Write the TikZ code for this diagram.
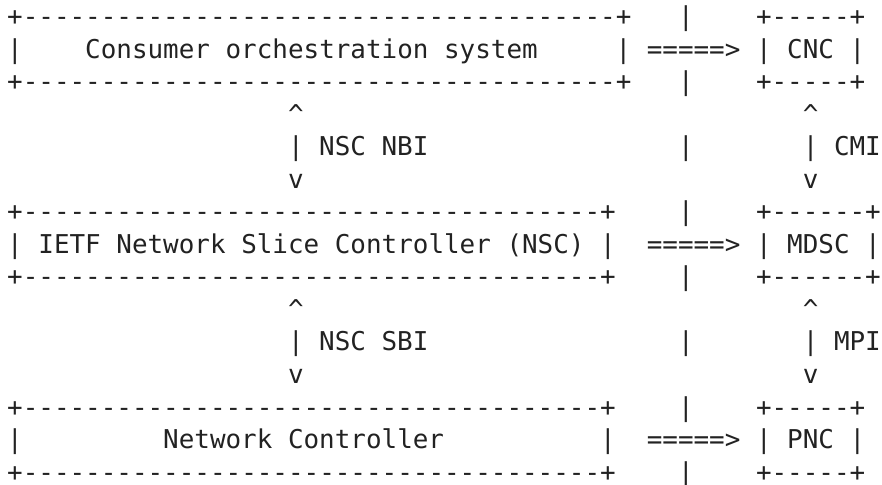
\documentclass[tikz,border=0pt]{standalone}
\usepackage{fontspec}
\setmonofont{DejaVu Sans Mono}
\definecolor{ink}{HTML}{222222}
\tikzset{
  asc/.style={anchor=base west, inner sep=0pt, outer sep=0pt, text=ink,
              font=\ttfamily\fontsize{12.96}{15}\selectfont}
}
% #1 name, #2 column, #3 row, #4 text
\newcommand\tok[4]{\node[asc] (#1) at ({7.2+15.6*#2},{26+32.5*(#3-1)}) {#4};}
\newcommand\topedge{+--------------------------------------+}
\newcommand\midedge{+-------------------------------------+}
\begin{document}
\begin{tikzpicture}[x=0.5pt,y=-0.5pt]
\useasboundingbox[fill=white] (0,0) rectangle (882,485);
% row 1
\tok{a1}{0}{1}{\topedge}
\tok{s1}{43}{1}{|}
\tok{cncT}{48}{1}{+-----+}
% row 2
\tok{coL}{0}{2}{|}
\tok{coT}{5}{2}{Consumer orchestration system}
\tok{coR}{39}{2}{|}
\tok{ar1}{41}{2}{=====>}
\tok{cncL}{48}{2}{|}
\tok{cnc}{50}{2}{CNC}
\tok{cncR}{54}{2}{|}
% row 3
\tok{a3}{0}{3}{\topedge}
\tok{s3}{43}{3}{|}
\tok{cncB}{48}{3}{+-----+}
% rows 4-6
\tok{nbiUp}{18}{4}{\textasciicircum}
\tok{cmiUp}{51}{4}{\textasciicircum}
\tok{nbiBar}{18}{5}{|}
\tok{nbi}{20}{5}{NSC NBI}
\tok{s5}{43}{5}{|}
\tok{cmiBar}{51}{5}{|}
\tok{cmi}{53}{5}{CMI}
\tok{nbiDn}{18}{6}{v}
\tok{cmiDn}{51}{6}{v}
% row 7
\tok{a7}{0}{7}{\midedge}
\tok{s7}{43}{7}{|}
\tok{mdT}{48}{7}{+------+}
% row 8
\tok{nsL}{0}{8}{|}
\tok{nsT}{2}{8}{IETF Network Slice Controller (NSC)}
\tok{nsR}{38}{8}{|}
\tok{ar2}{41}{8}{=====>}
\tok{mdL}{48}{8}{|}
\tok{md}{50}{8}{MDSC}
\tok{mdR}{55}{8}{|}
% row 9
\tok{a9}{0}{9}{\midedge}
\tok{s9}{43}{9}{|}
\tok{mdB}{48}{9}{+------+}
% rows 10-12
\tok{sbiUp}{18}{10}{\textasciicircum}
\tok{mpiUp}{51}{10}{\textasciicircum}
\tok{sbiBar}{18}{11}{|}
\tok{sbi}{20}{11}{NSC SBI}
\tok{s11}{43}{11}{|}
\tok{mpiBar}{51}{11}{|}
\tok{mpi}{53}{11}{MPI}
\tok{sbiDn}{18}{12}{v}
\tok{mpiDn}{51}{12}{v}
% row 13
\tok{a13}{0}{13}{\midedge}
\tok{s13}{43}{13}{|}
\tok{pnT}{48}{13}{+-----+}
% row 14
\tok{ncL}{0}{14}{|}
\tok{ncT}{10}{14}{Network Controller}
\tok{ncR}{38}{14}{|}
\tok{ar3}{41}{14}{=====>}
\tok{pnL}{48}{14}{|}
\tok{pn}{50}{14}{PNC}
\tok{pnR}{54}{14}{|}
% row 15
\tok{a15}{0}{15}{\midedge}
\tok{s15}{43}{15}{|}
\tok{pnB}{48}{15}{+-----+}
\end{tikzpicture}
\end{document}
